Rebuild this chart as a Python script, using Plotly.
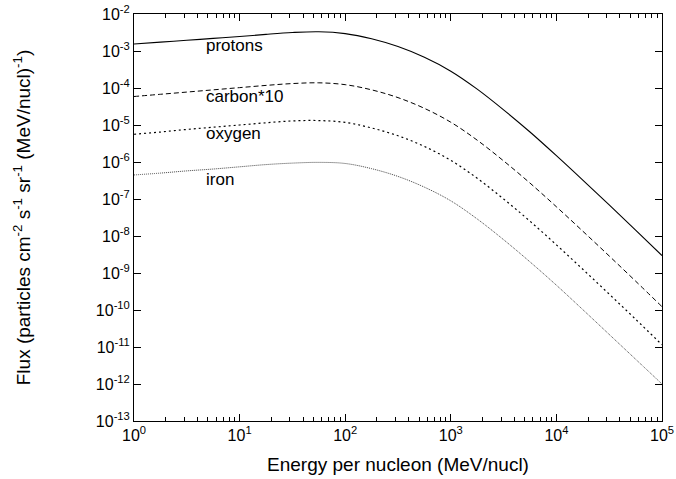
import plotly.graph_objects as go

# log10 of energy per nucleon (MeV/nucl) sample points
log_energy = [0, 0.25, 0.5, 0.75, 1.0, 1.25, 1.5, 1.75, 2.0, 2.25, 2.5, 2.75,
              3.0, 3.25, 3.5, 3.75, 4.0, 4.25, 4.5, 4.75, 5.0]
# log10 of flux
log_protons = [-2.81, -2.76, -2.71, -2.66, -2.61, -2.55, -2.50, -2.48, -2.53, -2.67, -2.88, -3.17,
               -3.545, -4.03, -4.59, -5.19, -5.83, -6.49, -7.16, -7.84, -8.53]
log_carbon10 = [-4.23, -4.17, -4.11, -4.05, -3.99, -3.93, -3.88, -3.86, -3.91, -4.05, -4.26, -4.55,
                -4.925, -5.41, -5.97, -6.57, -7.21, -7.87, -8.54, -9.22, -9.91]
log_oxygen = [-5.25, -5.19, -5.12, -5.06, -5.00, -4.94, -4.89, -4.88, -4.93, -5.08, -5.29, -5.58,
              -5.955, -6.44, -7.00, -7.60, -8.24, -8.90, -9.57, -10.25, -10.94]
log_iron = [-6.35, -6.30, -6.24, -6.19, -6.13, -6.07, -6.03, -6.01, -6.04, -6.18, -6.39, -6.68,
            -7.05, -7.54, -8.10, -8.70, -9.33, -9.99, -10.66, -11.33, -12.00]

series_names = ["protons", "carbon*10", "oxygen", "iron"]
# label anchor: log10(energy), log10(flux)
label_pos = [(0.665, -2.84), (0.665, -4.24), (0.665, -5.24), (0.665, -6.47)]

x_ticks = [1, 10, 100, 1000, 10000, 100000]
x_ticktext = ["10<sup>%d</sup>" % i for i in range(0, 6)]
y_exps = list(range(-13, -1))
y_ticks = [10.0 ** e for e in y_exps]
y_ticktext = ["10<sup>%d</sup>" % e for e in y_exps]

E = [10 ** v for v in log_energy]
styles = [
    dict(color="black", width=1.1, dash="solid"),
    dict(color="black", width=1.0, dash="5px,3px"),
    dict(color="black", width=1.2, dash="2px,3px"),
    dict(color="#444444", width=1.0, dash="1px,1px"),
]
fig = go.Figure()
for name, vals, st in zip(series_names, [log_protons, log_carbon10, log_oxygen, log_iron], styles):
    fig.add_trace(go.Scatter(x=E, y=[10 ** v for v in vals], mode="lines", name=name,
                             line=dict(shape="spline", smoothing=1.0, **st), showlegend=False))

FONT = "Liberation Sans, Arial, sans-serif"
for name, (lx, ly) in zip(series_names, label_pos):
    fig.add_annotation(x=lx, y=ly, xref="x", yref="y", text=name, showarrow=False,
                       xanchor="left", yanchor="middle",
                       font=dict(family=FONT, size=17, color="black"))

minor_x = [m * 10 ** d for d in range(0, 5) for m in range(2, 10)]

fig.update_layout(
    width=676, height=479,
    margin=dict(l=134, r=14, t=14, b=58),
    paper_bgcolor="white", plot_bgcolor="white",
    font=dict(family=FONT, size=16, color="black"),
    xaxis=dict(type="log", range=[0, 5], tickmode="array", tickvals=x_ticks, ticktext=x_ticktext,
               ticks="inside", ticklen=7, tickcolor="black", showline=True, linecolor="black",
               linewidth=1, mirror="allticks", showgrid=False, zeroline=False, automargin=False,
               minor=dict(tickmode="array", tickvals=minor_x, ticks="inside", ticklen=4,
                          tickcolor="black", showgrid=False),
               title=dict(text="Energy per nucleon (MeV/nucl)", standoff=14),
               tickfont=dict(size=16)),
    yaxis=dict(type="log", range=[-13, -2], tickmode="array", tickvals=y_ticks, ticktext=y_ticktext,
               ticks="inside", ticklen=7, tickcolor="black", showline=True, linecolor="black",
               linewidth=1, mirror="allticks", showgrid=False, zeroline=False, automargin=False,
               title=dict(text="Flux (particles cm<sup>-2</sup> s<sup>-1</sup> sr<sup>-1</sup> (MeV/nucl)<sup>-1</sup>)",
                          standoff=60),
               tickfont=dict(size=16)),
)
fig.write_html("out.html", config={"displayModeBar": False},
               post_script="document.body.style.margin='0';document.body.style.overflow='hidden';")
